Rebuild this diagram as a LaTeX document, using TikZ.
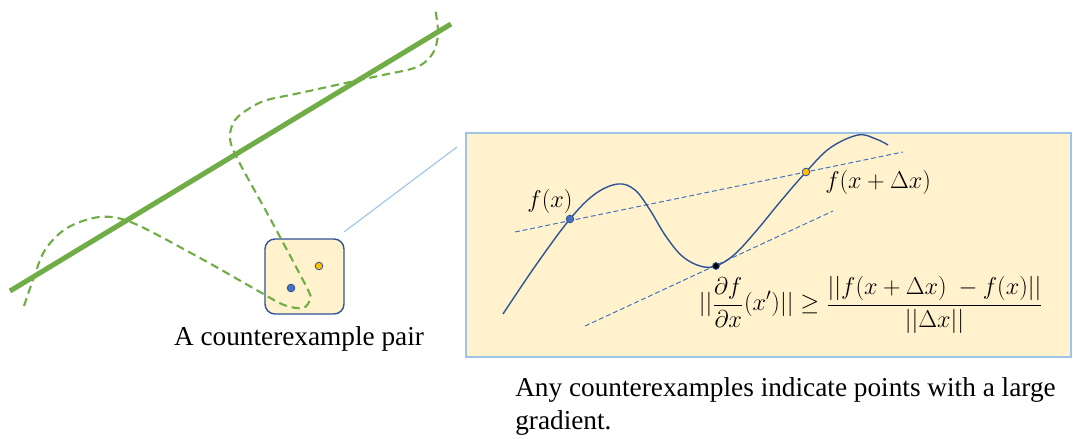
\documentclass[tikz,border=0pt]{standalone}
\usepackage{fontspec}
\setmainfont{Liberation Serif}
\definecolor{fitgreen}{RGB}{112,173,71}
\definecolor{padfill}{RGB}{255,242,204}
\definecolor{padblue}{RGB}{47,85,151}
\definecolor{leaderblue}{RGB}{157,195,230}
\definecolor{dotblue}{RGB}{68,114,196}
\definecolor{dotorange}{RGB}{255,192,0}
\begin{document}
\begin{tikzpicture}[x=0.025cm,y=-0.025cm,
  panel/.style={draw=leaderblue,line width=1pt,fill=padfill,minimum width=15.125cm,minimum height=5.6cm,inner sep=0pt},
  pairbox/.style={draw=padblue,line width=1pt,fill=padfill,rounded corners=0.25cm,minimum width=1.975cm,minimum height=1.875cm,inner sep=0pt},
  trace/.style={fitgreen,line width=1.5pt,dash pattern=on 5.8pt off 3.5pt},
  fitline/.style={fitgreen,line width=3.6pt},
  leader/.style={leaderblue,line width=0.8pt},
  fcurve/.style={padblue,line width=1pt},
  secant/.style={dotblue,line width=0.7pt,dash pattern=on 3.5pt off 2pt},
  dot/.style={circle,draw=padblue,line width=0.6pt,inner sep=0pt,minimum size=0.19cm},
  caption/.style={font=\fontsize{19.4}{23.5}\selectfont,inner sep=0pt},
  formula/.style={font=\fontsize{18}{21}\selectfont,inner sep=0pt}]
\useasboundingbox (0,0) rectangle (1073,439);
\node[panel] (zoompanel) at (768.5,245) {};
\node[pairbox] (pairbox) at (304.5,276.5) {};
\coordinate (fitlow) at (10,291);
\coordinate (fithigh) at (451,24);
\coordinate (zoomhead) at (344,232);
\coordinate (zoomfoot) at (457,147);
\draw[trace] plot[smooth,tension=0.55] coordinates {(24,306) (33,280) (45,250) (67,228) (100,217) (133,223) (200,258) (260,292) (284,305) (303,308) (310,299) (307,288) (272,222) (237,158) (230,137) (235,120) (250,108) (267,100) (300,93) (350,82) (383,75) (417,67) (433,53) (438,33) (435,8)};
\draw[fitline] (fitlow) -- (fithigh);
\draw[leader] (zoomhead) -- (zoomfoot);
\node[dot,fill=dotblue] (pairlow) at (291,288) {};
\node[dot,fill=dotorange] (pairhigh) at (319,266) {};
\coordinate (secanta) at (515,232);
\coordinate (secantb) at (903,152);
\coordinate (tangenta) at (585,326);
\coordinate (tangentb) at (833,211);
\draw[secant] (secanta) -- (secantb);
\draw[secant] (tangenta) -- (tangentb);
\draw[fcurve] plot[smooth,tension=0.6] coordinates {(503,314) (536,265) (570,219) (595,194) (618,184) (635,190) (650,210) (665,235) (682,256) (700,266) (716,266) (735,254) (757,230) (780,202) (806,172) (830,148) (858,135) (876,139) (888,145)};
\node[dot,fill=dotblue] (fx) at (570,219) {};
\node[dot,fill=dotorange] (fxdx) at (806,172) {};
\node[dot,fill=black,minimum size=0.17cm] (fxprime) at (716,266) {};
\node[formula] (fxlabel) at (550,201) {$f(x)$};
\node[formula,anchor=west] (fxdxlabel) at (825,182) {$f(x+\Delta x)$};
\node[formula] (bound) at (871,305) {$\displaystyle ||\frac{\partial f}{\partial x}(x')|| \geq \frac{||f(x+\Delta x)\ -f(x)||}{||\Delta x||}$};
\node[caption,anchor=base] (paircaption) at (299,345) {A counterexample pair};
\node[caption,anchor=north west,align=left] (gradcaption) at (515,377) {Any counterexamples indicate points with a large\\gradient.};
\end{tikzpicture}
\end{document}
